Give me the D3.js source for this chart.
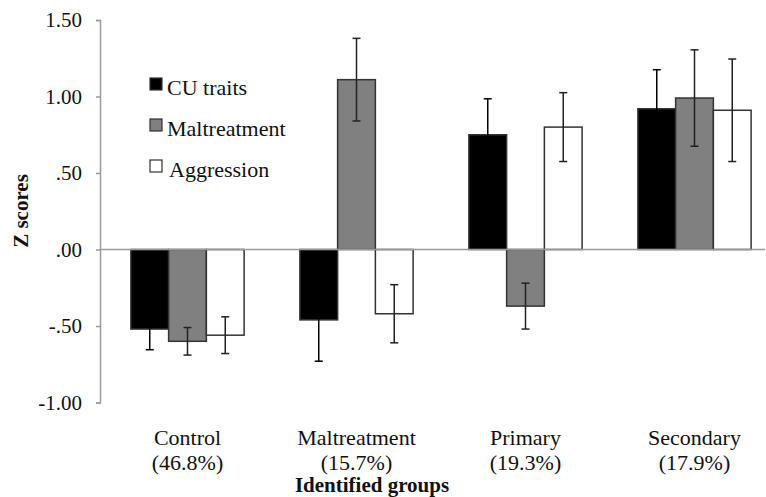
<!DOCTYPE html>
<html>
<head>
<meta charset="utf-8">
<script src="https://cdn.jsdelivr.net/npm/d3@7"></script>
<style>
  body { margin: 0; background: #fff; }
</style>
</head>
<body>
<div id="fig"></div>
<script>
// Datos
const groups = ["Control", "Maltreatment", "Primary", "Secondary"];
const groupPct = ["(46.8%)", "(15.7%)", "(19.3%)", "(17.9%)"];
const series = ["CU traits", "Maltreatment", "Aggression"];
const cuTraits = [-0.52, -0.46, 0.75, 0.92];
const maltreatment = [-0.60, 1.11, -0.37, 0.99];
const aggression = [-0.56, -0.42, 0.80, 0.91];
const cuErr = [0.135, 0.27, 0.235, 0.255];
const maltErr = [0.09, 0.27, 0.15, 0.315];
const aggrErr = [0.12, 0.19, 0.225, 0.335];
const yTicks = [-1, -0.5, 0, 0.5, 1, 1.5];
const tickLabels = ["-1.00", "-.50", ".00", ".50", "1.00", "1.50"];

const colors = { "CU traits": "#000000", "Maltreatment": "#808080", "Aggression": "#ffffff" };
const fontName = "'Liberation Serif', serif";

const width = 766, height = 497;
const svg = d3.select("#fig").append("svg")
    .attr("width", width)
    .attr("height", height);

// Escalas
const y = d3.scaleLinear().domain([-1, 1.5]).range([402.5, 20]);
const x0 = d3.scaleBand().domain(groups).range([103, 779])
    .paddingInner(0.33).paddingOuter(0.165);
const x1 = d3.scaleBand().domain(series).range([0, x0.bandwidth()]);

// Tabla de filas
const rows = [];
groups.forEach((g, i) => {
    rows.push({ group: g, key: "CU traits", value: cuTraits[i], err: cuErr[i] });
    rows.push({ group: g, key: "Maltreatment", value: maltreatment[i], err: maltErr[i] });
    rows.push({ group: g, key: "Aggression", value: aggression[i], err: aggrErr[i] });
});

// Eje Y
const yAxis = svg.append("g")
    .attr("transform", "translate(100,0)")
    .call(d3.axisLeft(y).tickValues(yTicks).tickSize(4).tickPadding(14)
        .tickFormat((d, i) => tickLabels[i]));
yAxis.select(".domain").attr("stroke", "#9a9a9a").attr("stroke-width", 1.5);
yAxis.selectAll(".tick line").attr("stroke", "#9a9a9a").attr("stroke-width", 1.5);
yAxis.selectAll(".tick text")
    .style("font-family", fontName)
    .style("font-size", "21px")
    .attr("fill", "#111");

// Barras
svg.selectAll(".bar")
    .data(rows)
    .join("rect")
    .attr("class", "bar")
    .attr("x", d => x0(d.group) + x1(d.key))
    .attr("y", d => y(Math.max(0, d.value)))
    .attr("width", x1.bandwidth())
    .attr("height", d => Math.abs(y(d.value) - y(0)))
    .attr("fill", d => colors[d.key])
    .attr("stroke", "#333")
    .attr("stroke-width", 1.5);

// Línea de cero
svg.append("line")
    .attr("x1", 100).attr("x2", 765)
    .attr("y1", y(0)).attr("y2", y(0))
    .attr("stroke", "#9a9a9a")
    .attr("stroke-width", 1.5);

// Barras de error
const eb = svg.selectAll(".err")
    .data(rows)
    .join("g")
    .attr("class", "err")
    .attr("transform", d => `translate(${x0(d.group) + x1(d.key) + x1.bandwidth() / 2},0)`)
    .attr("stroke", d => d.key === "CU traits" ? "#000" : "#222")
    .attr("stroke-width", 1.5);
eb.append("line")
    .attr("y1", d => y(d.value - d.err))
    .attr("y2", d => y(d.value + d.err));
eb.append("line")
    .attr("x1", -4).attr("x2", 4)
    .attr("y1", d => y(d.value + d.err)).attr("y2", d => y(d.value + d.err));
eb.append("line")
    .attr("x1", -4).attr("x2", 4)
    .attr("y1", d => y(d.value - d.err)).attr("y2", d => y(d.value - d.err));

// Etiquetas de grupos
const labels = svg.selectAll(".glabel")
    .data(groups)
    .join("text")
    .attr("class", "glabel")
    .attr("text-anchor", "middle")
    .style("font-family", fontName)
    .style("font-size", "22px")
    .attr("fill", "#111")
    .attr("x", d => x0(d) + x0.bandwidth() / 2)
    .attr("y", 445);
labels.append("tspan").text(d => d);
labels.append("tspan")
    .attr("x", d => x0(d) + x0.bandwidth() / 2)
    .attr("dy", 25)
    .text((d, i) => groupPct[i]);

// Títulos de ejes
svg.append("text")
    .attr("text-anchor", "middle")
    .style("font-family", fontName)
    .style("font-size", "21px")
    .style("font-weight", "bold")
    .attr("fill", "#111")
    .attr("x", 372)
    .attr("y", 492)
    .text("Identified groups");

svg.append("text")
    .attr("text-anchor", "middle")
    .style("font-family", fontName)
    .style("font-size", "21px")
    .style("font-weight", "bold")
    .attr("fill", "#111")
    .attr("transform", "translate(28,211) rotate(-90)")
    .text("Z scores");

// Leyenda
const legend = svg.selectAll(".legend")
    .data(series)
    .join("g")
    .attr("class", "legend")
    .attr("transform", (d, i) => `translate(150,${78 + i * 41})`);
legend.append("rect")
    .attr("width", 12).attr("height", 12)
    .attr("fill", d => colors[d])
    .attr("stroke", "#333")
    .attr("stroke-width", 1.2);
legend.append("text")
    .attr("x", (d, i) => i === 2 ? 19 : 17)
    .attr("y", 17)
    .style("font-family", fontName)
    .style("font-size", "22px")
    .attr("fill", "#111")
    .text(d => d);
</script>
</body>
</html>
